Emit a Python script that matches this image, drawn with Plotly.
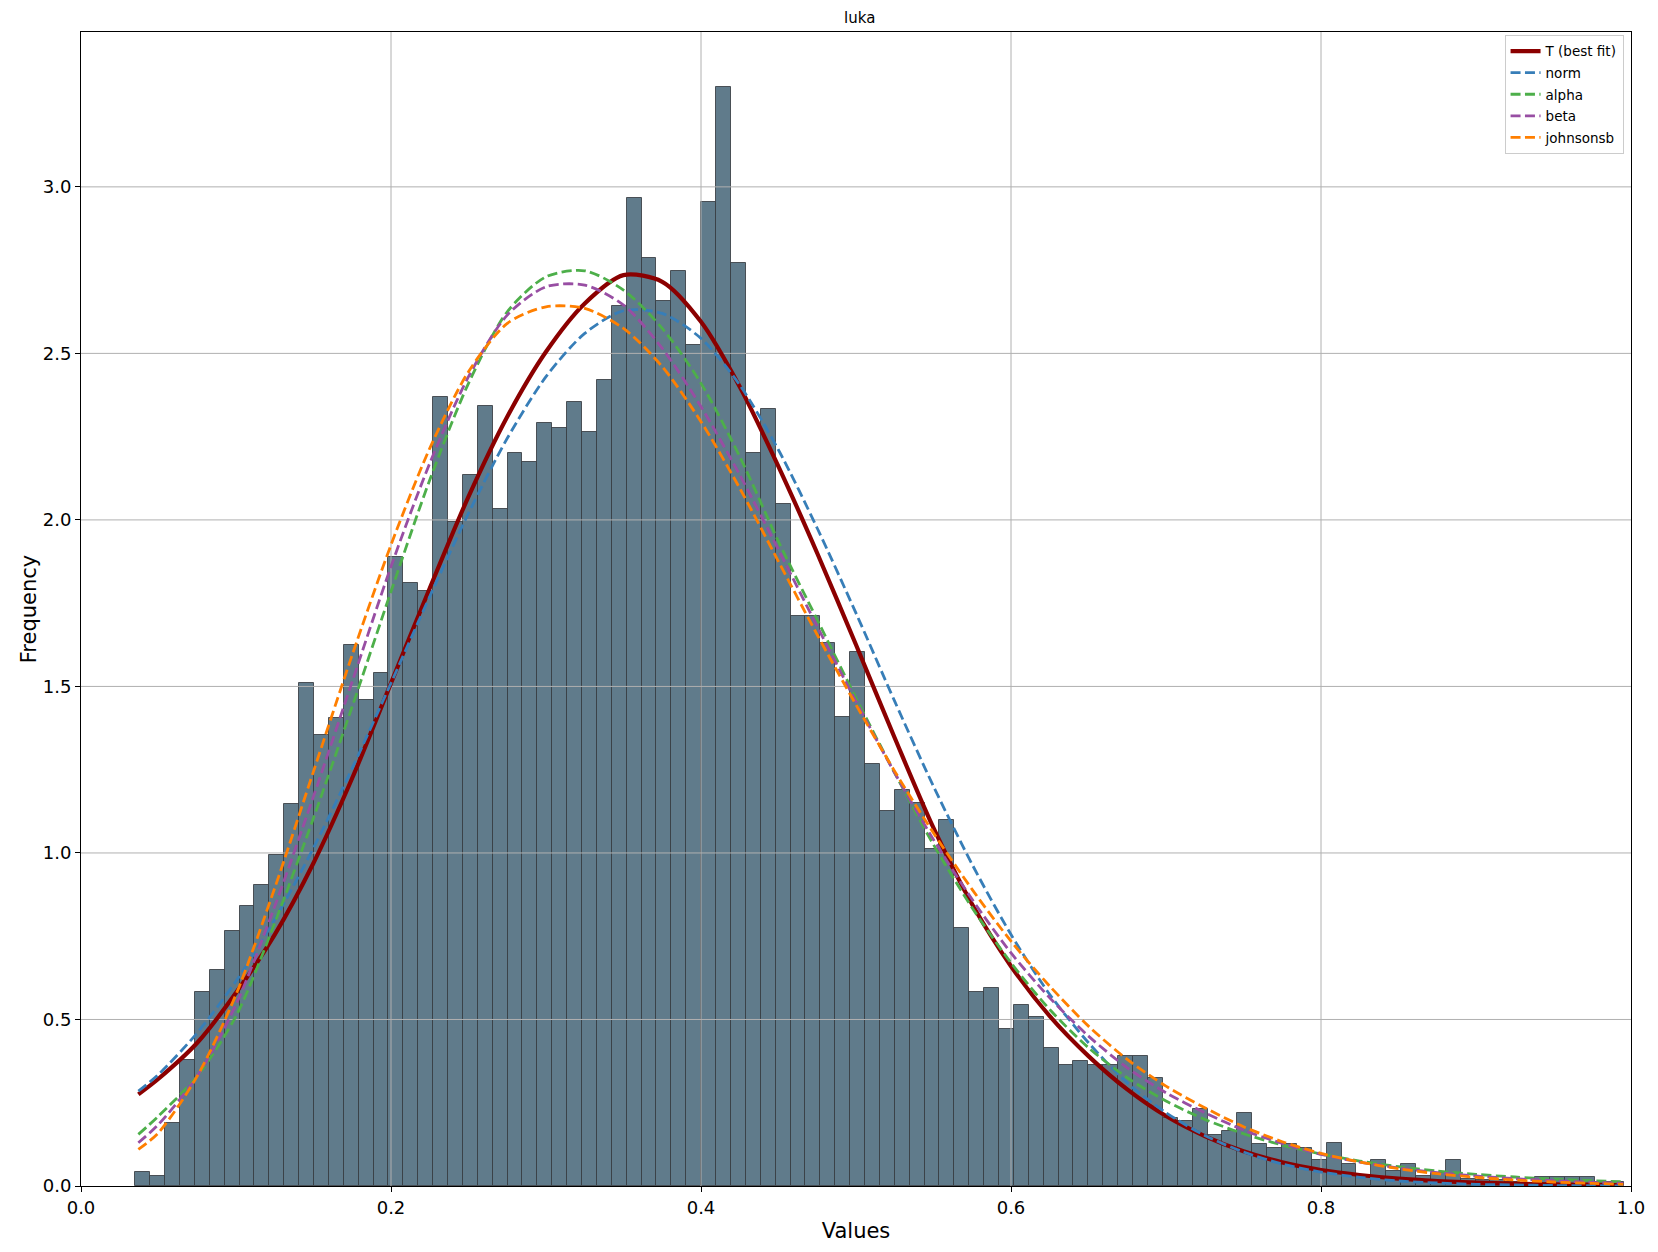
import plotly.graph_objects as go

# ---------------- data ----------------
bin_start = 0.0350
bin_end = 0.9958
bar_heights = [
    0.043, 0.031, 0.188, 0.377, 0.583, 0.648, 0.765, 0.842, 0.904, 0.994,
    1.148, 1.509, 1.354, 1.405, 1.625, 1.459, 1.540, 1.890, 1.812, 1.788,
    2.368, 1.995, 2.135, 2.342, 2.033, 2.200, 2.174, 2.291, 2.276, 2.354,
    2.265, 2.420, 2.643, 2.967, 2.786, 2.658, 2.747, 2.525, 2.954, 3.300,
    2.771, 2.202, 2.332, 2.047, 1.712, 1.710, 1.630, 1.408, 1.602, 1.268,
    1.127, 1.190, 1.151, 1.011, 1.100, 0.776, 0.582, 0.596, 0.470, 0.544,
    0.507, 0.415, 0.364, 0.376, 0.364, 0.364, 0.390, 0.390, 0.325, 0.205,
    0.194, 0.232, 0.154, 0.165, 0.220, 0.127, 0.115, 0.127, 0.115, 0.077,
    0.130, 0.067, 0.030, 0.079, 0.045, 0.066, 0.030, 0.040, 0.079, 0.020,
    0.017, 0.017, 0.012, 0.010, 0.027, 0.027, 0.027, 0.027, 0.012, 0.012,
]

curve_x = [0.037, 0.05, 0.075, 0.1, 0.125, 0.15, 0.175, 0.2, 0.225, 0.25,
           0.275, 0.3, 0.325, 0.35, 0.375, 0.4, 0.425, 0.45, 0.475, 0.5,
           0.525, 0.55, 0.575, 0.6, 0.625, 0.65, 0.675, 0.7, 0.725, 0.75,
           0.775, 0.8, 0.825, 0.85, 0.875, 0.9, 0.925, 0.95, 0.975, 0.995]

t_best = [0.275, 0.322, 0.43, 0.58, 0.755, 0.97, 1.225, 1.51, 1.795, 2.07,
          2.31, 2.505, 2.65, 2.735, 2.715, 2.595, 2.40, 2.16, 1.90, 1.625,
          1.345, 1.075, 0.845, 0.66, 0.51, 0.39, 0.29, 0.21, 0.15, 0.104,
          0.071, 0.048, 0.033, 0.022, 0.015, 0.010, 0.007, 0.005, 0.004, 0.003]

norm_v = [0.285, 0.335, 0.46, 0.615, 0.80, 1.015, 1.255, 1.51, 1.77, 2.02,
          2.245, 2.43, 2.56, 2.628, 2.62, 2.545, 2.405, 2.21, 1.975, 1.72,
          1.455, 1.20, 0.965, 0.755, 0.575, 0.43, 0.31, 0.22, 0.152, 0.102,
          0.066, 0.042, 0.026, 0.015, 0.009, 0.005, 0.003, 0.0015, 0.0008, 0.0005]

alpha_v = [0.155, 0.21, 0.33, 0.51, 0.79, 1.105, 1.44, 1.785, 2.12, 2.41,
           2.625, 2.73, 2.748, 2.69, 2.575, 2.41, 2.19, 1.935, 1.70, 1.465,
           1.24, 1.025, 0.835, 0.67, 0.53, 0.415, 0.325, 0.255, 0.20, 0.157,
           0.123, 0.096, 0.075, 0.058, 0.045, 0.035, 0.027, 0.021, 0.016, 0.013]

beta_v = [0.13, 0.185, 0.33, 0.545, 0.84, 1.17, 1.515, 1.86, 2.17, 2.43,
          2.615, 2.70, 2.705, 2.645, 2.515, 2.34, 2.135, 1.91, 1.68, 1.455,
          1.24, 1.04, 0.86, 0.70, 0.565, 0.45, 0.355, 0.28, 0.22, 0.168,
          0.128, 0.095, 0.072, 0.054, 0.040, 0.030, 0.022, 0.016, 0.011, 0.008]

johnsonsb_v = [0.11, 0.16, 0.33, 0.575, 0.895, 1.245, 1.595, 1.925, 2.215, 2.445,
               2.59, 2.64, 2.635, 2.575, 2.46, 2.295, 2.095, 1.875, 1.655, 1.445,
               1.245, 1.06, 0.89, 0.735, 0.60, 0.48, 0.38, 0.30, 0.235, 0.178,
               0.133, 0.098, 0.072, 0.052, 0.037, 0.026, 0.018, 0.012, 0.008, 0.005]

x_ticks = [0.0, 0.2, 0.4, 0.6, 0.8, 1.0]
y_ticks = [0.0, 0.5, 1.0, 1.5, 2.0, 2.5, 3.0]

# ---------------- figure ----------------
n_bins = len(bar_heights)
bin_w = (bin_end - bin_start) / n_bins
centers = [bin_start + (i + 0.5) * bin_w for i in range(n_bins)]
y_top = max(bar_heights) * 1.05

FONT = "DejaVu Sans"
fig = go.Figure()

fig.add_trace(go.Bar(
    x=centers, y=bar_heights, width=bin_w,
    marker=dict(color="#607b8b", line=dict(color="rgba(55,60,65,0.85)", width=1)),
    showlegend=False, hoverinfo="skip"))

# grid lines drawn above bars, below curves (matplotlib style)
gx, gy = [], []
for xv in x_ticks[1:-1]:
    gx += [xv, xv, None]
    gy += [0, y_top, None]
for yv in y_ticks[1:]:
    gx += [0, 1, None]
    gy += [yv, yv, None]
fig.add_trace(go.Scatter(x=gx, y=gy, mode="lines",
                         line=dict(color="#b0b0b0", width=1),
                         showlegend=False, hoverinfo="skip"))

fig.add_trace(go.Scatter(x=curve_x, y=t_best, mode="lines", name="T (best fit)",
                         legendgroup="g0",
                         line=dict(color="#8b0000", width=4.2, shape="spline", smoothing=0.8)))
dash = "10px,4.4px"
for k, (name, vals, col) in enumerate([("norm", norm_v, "#377eb8"),
                                       ("alpha", alpha_v, "#4daf4a"),
                                       ("beta", beta_v, "#984ea3"),
                                       ("johnsonsb", johnsonsb_v, "#ff7f00")]):
    fig.add_trace(go.Scatter(x=curve_x, y=vals, mode="lines", name=name,
                             legendgroup=f"g{k + 1}",
                             line=dict(color=col, width=2.8, dash=dash,
                                       shape="spline", smoothing=0.8)))

axis_common = dict(showgrid=False, zeroline=False, showline=True, mirror=True,
                   linecolor="black", linewidth=1, ticks="outside", ticklen=5,
                   tickwidth=1, tickcolor="black", automargin=False,
                   tickfont=dict(family=FONT, size=18, color="black"),
                   tickformat=".1f")

# the page body adds an 8px margin, so the figure is sized to fit the window
fig.update_layout(
    width=1650, height=1236,
    margin=dict(l=73, r=27, t=24, b=58),
    paper_bgcolor="white", plot_bgcolor="white",
    bargap=0,
    title=dict(text="luka", x=0.5162, xanchor="center", y=0.9919, yanchor="middle",
               font=dict(family=FONT, size=15, color="black")),
    xaxis=dict(range=[0, 1], tickvals=x_ticks,
               title=dict(text="Values", font=dict(family=FONT, size=21, color="black"),
                          standoff=6),
               **axis_common),
    yaxis=dict(range=[0, y_top], tickvals=y_ticks,
               title=dict(text="Frequency", font=dict(family=FONT, size=21, color="black"),
                          standoff=0),
               **axis_common),
    legend=dict(x=0.9952, y=0.9975, xanchor="right", yanchor="top",
                bgcolor="rgba(255,255,255,0.85)", bordercolor="#cccccc", borderwidth=1,
                font=dict(family=FONT, size=13.5, color="black"),
                itemwidth=30, tracegroupgap=1),
)

fig.write_html("out.html")
